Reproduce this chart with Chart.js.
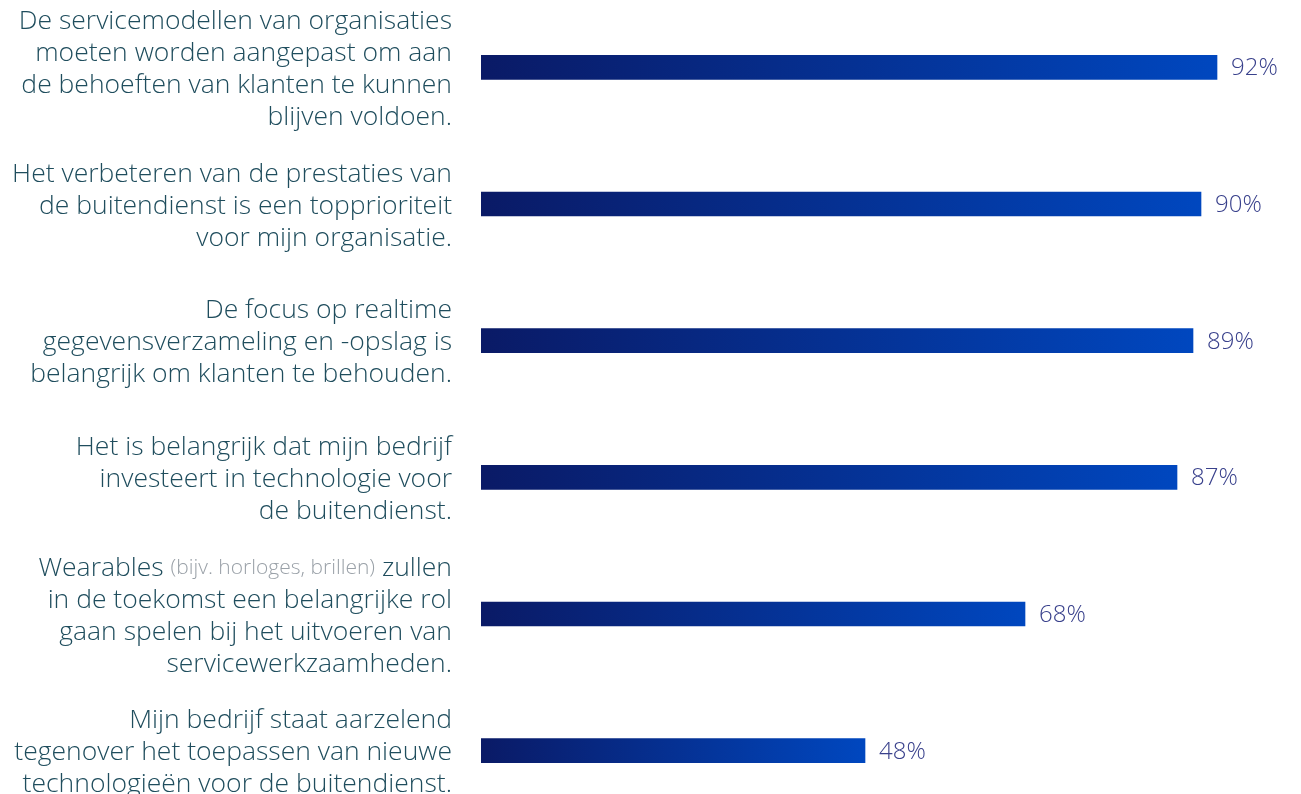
<!DOCTYPE html>
<html>
<head>
<meta charset="utf-8">
<script src="https://cdn.jsdelivr.net/npm/chart.js@4/dist/chart.umd.min.js"></script>
<style>
  html,body{margin:0;padding:0;background:#fff;overflow:hidden;}
  #wrap{position:absolute;left:0;top:-1px;width:1301px;height:820px;}
</style>
</head>
<body>
<div id="wrap"><canvas id="chart"></canvas></div>
<script>
// labels, one array of lines per bar
const categories = [
  ["De servicemodellen van organisaties","moeten worden aangepast om aan","de behoeften van klanten te kunnen","blijven voldoen."],
  ["Het verbeteren van de prestaties van","de buitendienst is een topprioriteit","voor mijn organisatie."],
  ["De focus op realtime","gegevensverzameling en -opslag is","belangrijk om klanten te behouden."],
  ["Het is belangrijk dat mijn bedrijf","investeert in technologie voor","de buitendienst."],
  ["Wearables (bijv. horloges, brillen) zullen","in de toekomst een belangrijke rol","gaan spelen bij het uitvoeren van","servicewerkzaamheden."],
  ["Mijn bedrijf staat aarzelend","tegenover het toepassen van nieuwe","technologieën voor de buitendienst."]
];
const values = [92, 90, 89, 87, 68, 48];

const FONT = "'Open Sans', sans-serif";
const labelColor = "#1f4d5d";
const noteColor = "#9aa1a8";
const valueColor = "#39418c";

const labelPlugin = {
  id: "sideLabels",
  afterDraw(chart){
    const c = chart.ctx, y = chart.scales.y;
    c.save();
    c.textBaseline = "middle";
    categories.forEach((lines, i) => {
      const yc = y.getPixelForValue(i);
      const top = yc - (lines.length - 1) * 16 + 2;
      lines.forEach((line, j) => {
        const parts = line.split(/(\(.*?\))/).filter(p => p.length);
        let x = 452;
        for (let k = parts.length - 1; k >= 0; k--) {
          const note = parts[k].startsWith("(");
          c.font = note ? "300 21px " + FONT : "300 26.5px " + FONT;
          c.fillStyle = note ? noteColor : labelColor;
          c.textAlign = "right";
          c.fillText(parts[k], x, top + j * 32);
          x -= c.measureText(parts[k]).width;
        }
      });
    });
    c.restore();
  }
};

const valuePlugin = {
  id: "valueLabels",
  afterDatasetsDraw(chart){
    const c = chart.ctx;
    c.save();
    c.font = "300 24px " + FONT;
    c.fillStyle = valueColor;
    c.textBaseline = "middle";
    c.textAlign = "left";
    chart.getDatasetMeta(0).data.forEach((bar, i) => {
      c.fillText(values[i] + "%", bar.x + 14, bar.y + 1);
    });
    c.restore();
  }
};

chart = new Chart(document.getElementById("chart"), {
  type: "bar",
  data: {
    labels: categories.map(l => l.join(" ")),
    datasets: [{
      data: values,
      barThickness: 24,
      backgroundColor: ctx => {
        const ch = ctx.chart;
        if (!ch.chartArea) return "#0a2a8a";
        const x0 = ch.scales.x.getPixelForValue(0);
        const x1 = ch.scales.x.getPixelForValue(ctx.raw);
        const g = ch.ctx.createLinearGradient(x0, 0, x1, 0);
        g.addColorStop(0, "#0a1a66");
        g.addColorStop(1, "#0047bf");
        return g;
      }
    }]
  },
  options: {
    indexAxis: "y",
    responsive: true,
    maintainAspectRatio: false,
    animation: false,
    layout: { padding: { left: 481, right: 20, top: 0, bottom: 0 } },
    plugins: { legend: { display: false }, tooltip: { enabled: false } },
    scales: {
      x: { display: false, min: 0, max: 100 },
      y: { display: false, offset: true }
    }
  },
  plugins: [labelPlugin, valuePlugin]
});
</script>
</body>
</html>
